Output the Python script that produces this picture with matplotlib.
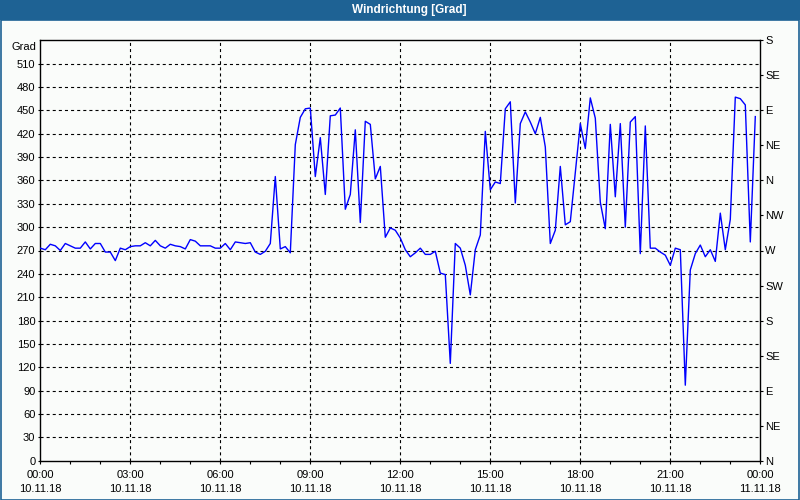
import numpy as np
import matplotlib
matplotlib.use("Agg")
import matplotlib.pyplot as plt
from matplotlib.patches import Rectangle

plt.rcParams['font.family'] = ['Liberation Sans', 'DejaVu Sans']
plt.rcParams['font.size'] = 8
plt.rcParams['lines.scale_dashes'] = False

# ---- data (10-minute readings, 10.11.18 00:00 .. 23:50) ----
interval_min = 10
direction = [
    273, 271, 278, 276, 270, 279, 276, 273, 273, 281,
    272, 279, 279, 268, 268, 257, 273, 271, 275, 276,
    276, 280, 276, 283, 276, 273, 278, 276, 275, 272,
    284, 282, 276, 276, 276, 273, 273, 279, 271, 281,
    280, 279, 280, 268, 265, 269, 279, 365, 272, 275,
    267, 406, 441, 452, 453, 365, 415, 342, 443, 444,
    453, 323, 342, 425, 306, 436, 432, 362, 378, 287,
    299, 296, 286, 271, 262, 267, 273, 265, 265, 269,
    241, 239, 125, 279, 273, 251, 213, 271, 290, 423,
    348, 358, 356, 452, 461, 331, 433, 448, 435, 420,
    441, 403, 279, 296, 378, 303, 307, 370, 433, 401,
    466, 440, 332, 298, 432, 339, 433, 300, 435, 442,
    266, 430, 273, 273, 268, 264, 251, 273, 271, 97,
    245, 266, 277, 262, 271, 256, 318, 271, 310, 467,
    465, 457, 281, 442,
]
hours = np.arange(len(direction)) * interval_min / 60.0

x_tick_hours = [0, 3, 6, 9, 12, 15, 18, 21, 24]
x_tick_labels = ["00:00\n10.11.18", "03:00\n10.11.18", "06:00\n10.11.18",
                 "09:00\n10.11.18", "12:00\n10.11.18", "15:00\n10.11.18",
                 "18:00\n10.11.18", "21:00\n10.11.18", "00:00\n11.11.18"]
y_ticks = list(range(0, 511, 30))
compass_ticks = list(range(0, 541, 45))
compass_labels = ["N", "NE", "E", "SE", "S", "SW", "W", "NW",
                  "N", "NE", "E", "SE", "S"]

W, H = 800, 500
fig = plt.figure(figsize=(8, 5), dpi=100)
bg = '#FAFCFA'
fig.patch.set_facecolor(bg)

# title bar
fig.patches.append(Rectangle((0, 1 - 20 / H), 1, 20 / H, transform=fig.transFigure,
                             facecolor='#1E6294', edgecolor='none', zorder=0))
fig.text(409.5 / W, 1 - 10.5 / H, "Windrichtung [Grad]", ha='center', va='center',
         color='white', fontsize=8.5, fontweight='bold')
# outer frame
fig.patches.append(Rectangle((0.5 / W, 0.5 / H), 1 - 1.5 / W, 1 - 20 / H, transform=fig.transFigure,
                             facecolor='none', edgecolor='#1E6294', linewidth=1.2, zorder=0))

ax = fig.add_axes([40.3 / W, 39.3 / H, 720 / W, 420.4 / H])
ax.set_facecolor(bg)
ax.plot(hours, direction, color='#0000FF', linewidth=1.0, zorder=3)

ax.set_xlim(0, 24)
ax.set_ylim(0, 540)
ax.set_xticks(x_tick_hours)
ax.set_xticklabels(x_tick_labels, linespacing=1.45)
ax.set_xticks(range(0, 25), minor=True)
ax.set_yticks(y_ticks)
ax.set_yticklabels([str(v) for v in y_ticks])

for s in ax.spines.values():
    s.set_linewidth(1.0)
    s.set_color('black')

ax.tick_params(axis='x', which='both', direction='out', length=2.4, width=0.8, pad=4.5)
ax.tick_params(axis='y', direction='out', length=1.8, width=0.8, pad=1.8)

dash = (0, (2.2, 2.2))
for h in x_tick_hours[1:-1]:
    ax.axvline(h, color='black', linewidth=0.8, linestyle=dash, zorder=1)
for v in y_ticks[1:]:
    ax.axhline(v, color='black', linewidth=0.8, linestyle=dash, zorder=1)

ax.text(-0.006, 0.997, "Grad", transform=ax.transAxes, ha='right', va='top')

ax2 = ax.twinx()
ax2.set_ylim(0, 540)
ax2.set_yticks(compass_ticks)
ax2.set_yticklabels(compass_labels)
ax2.tick_params(axis='y', direction='out', length=2.2, width=0.8, pad=1.2)
for s in ax2.spines.values():
    s.set_visible(False)

fig.savefig("out.png", dpi=100, facecolor=fig.get_facecolor())
